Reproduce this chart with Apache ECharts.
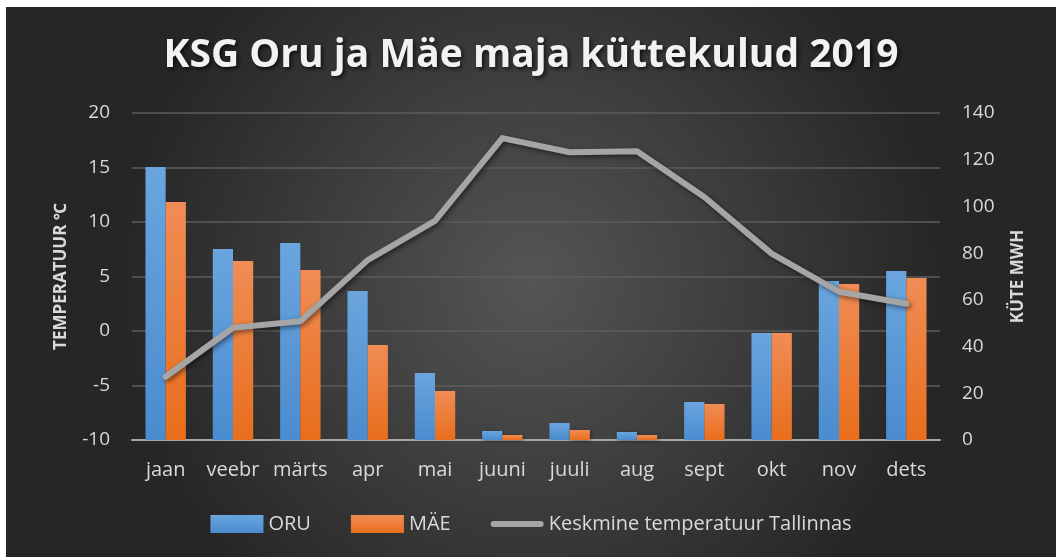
<!DOCTYPE html>
<html lang="et">
<head>
    <meta charset="UTF-8">
    <title>KSG Oru ja Mäe maja küttekulud 2019</title>
    <script src="https://cdn.jsdelivr.net/npm/echarts@6/dist/echarts.min.js"></script>
    <style>
        html, body { margin: 0; padding: 0; background: #fff; }
        #chart { position: absolute; left: 6px; top: 7px; width: 1050px; height: 550px; }
    </style>
</head>
<body>
    <div id="chart"></div>
    <script>
        // kuud
        const months = ['jaan', 'veebr', 'märts', 'apr', 'mai', 'juuni', 'juuli', 'aug', 'sept', 'okt', 'nov', 'dets'];
        // küte MWh
        const oru = [116.9, 81.8, 84.3, 63.8, 28.7, 3.9, 7.3, 3.4, 16.3, 45.8, 68.1, 72.4];
        const mae = [101.9, 76.6, 72.8, 40.7, 21.0, 2.1, 4.3, 2.1, 15.4, 45.8, 66.8, 69.4];
        // keskmine temperatuur Tallinnas
        const temp = [-4.2, 0.3, 0.9, 6.5, 10.1, 17.7, 16.4, 16.5, 12.3, 7.1, 3.6, 2.5];

        const font = '"Open Sans", "Noto Sans", sans-serif';
        const labelColor = '#d9d9d9';

        const myChart = echarts.init(document.getElementById('chart'));

        const barGrad = (top, bottom) => new echarts.graphic.LinearGradient(0, 0, 0, 1, [
            {offset: 0, color: top},
            {offset: 1, color: bottom}
        ]);

        const option = {
            backgroundColor: {
                type: 'radial', x: 0.5, y: 0.5, r: 0.75,
                colorStops: [
                    {offset: 0, color: '#555555'},
                    {offset: 1, color: '#262626'}
                ]
            },
            title: {
                text: 'KSG Oru ja Mäe maja küttekulud 2019',
                left: 'center',
                top: 24,
                textStyle: {
                    color: '#f2f2f2',
                    fontFamily: font,
                    fontWeight: 'bold',
                    fontSize: 39,
                    textShadowColor: 'rgba(0,0,0,0.7)',
                    textShadowBlur: 4,
                    textShadowOffsetX: 2,
                    textShadowOffsetY: 2
                }
            },
            grid: { left: 126, right: 116, top: 106, bottom: 117 },
            legend: {
                bottom: 18,
                left: 'center',
                itemWidth: 53,
                itemHeight: 18,
                itemGap: 40,
                textStyle: { color: labelColor, fontFamily: font, fontSize: 20 },
                data: [
                    {name: 'ORU', icon: 'rect'},
                    {name: 'MÄE', icon: 'rect'},
                    {name: 'Keskmine temperatuur Tallinnas',
                     icon: 'path://M3,0 H50 A3,3 0 0 1 50,6 H3 A3,3 0 0 1 3,0 Z'}
                ]
            },
            xAxis: {
                type: 'category',
                data: months,
                axisLine: { onZero: false, lineStyle: { color: '#a6a6a6', width: 2 } },
                axisTick: { show: false },
                axisLabel: { interval: 0, color: labelColor, fontFamily: font, fontSize: 20, margin: 20 }
            },
            yAxis: [
                {
                    type: 'value',
                    min: -10, max: 20, interval: 5,
                    name: 'TEMPERATUUR ℃',
                    nameLocation: 'middle',
                    nameGap: 62,
                    nameTextStyle: { color: labelColor, fontFamily: font, fontSize: 17, fontWeight: 'bold' },
                    axisLine: { show: false },
                    axisTick: { show: false },
                    axisLabel: { color: labelColor, fontFamily: font, fontSize: 19, margin: 22 },
                    splitLine: { lineStyle: { color: '#5c5c5c', width: 1.5 } }
                },
                {
                    type: 'value',
                    min: 0, max: 140, interval: 20,
                    name: 'KÜTE MWH',
                    nameLocation: 'middle',
                    nameGap: 70,
                    nameRotate: 90,
                    nameTextStyle: { color: labelColor, fontFamily: font, fontSize: 17, fontWeight: 'bold' },
                    axisLine: { show: false },
                    axisTick: { show: false },
                    axisLabel: { color: labelColor, fontFamily: font, fontSize: 19, margin: 22 },
                    splitLine: { show: false }
                }
            ],
            series: [
                {
                    name: 'ORU',
                    type: 'bar',
                    yAxisIndex: 1,
                    data: oru,
                    barGap: '0%',
                    barCategoryGap: '40%',
                    itemStyle: {
                        color: barGrad('#6aa5de', '#4a8ccf'),
                        shadowColor: 'rgba(0,0,0,0.4)', shadowBlur: 4, shadowOffsetX: 1, shadowOffsetY: 1
                    }
                },
                {
                    name: 'MÄE',
                    type: 'bar',
                    yAxisIndex: 1,
                    data: mae,
                    itemStyle: {
                        color: barGrad('#f08c55', '#e86e1c'),
                        shadowColor: 'rgba(0,0,0,0.4)', shadowBlur: 4, shadowOffsetX: 1, shadowOffsetY: 1
                    }
                },
                {
                    name: 'Keskmine temperatuur Tallinnas',
                    type: 'line',
                    yAxisIndex: 0,
                    data: temp,
                    symbol: 'none',
                    z: 5,
                    itemStyle: { color: '#a5a5a5' },
                    lineStyle: {
                        color: '#a5a5a5', width: 6, cap: 'round', join: 'round',
                        shadowColor: 'rgba(0,0,0,0.5)', shadowBlur: 5, shadowOffsetX: 2, shadowOffsetY: 2
                    }
                }
            ]
        };
        myChart.setOption(option);
    </script>
</body>
</html>
